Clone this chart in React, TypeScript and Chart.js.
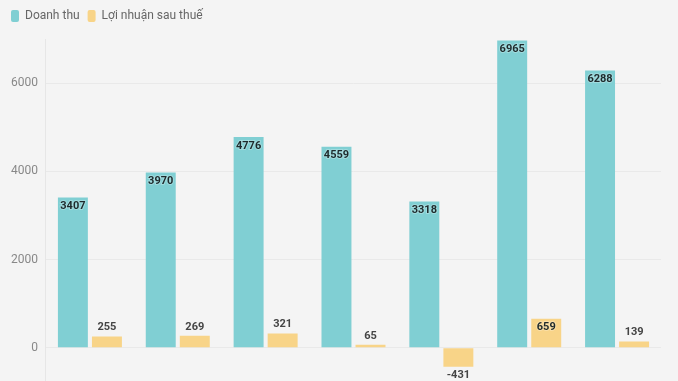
import React, { useEffect, useRef } from "react";
import { Chart, registerables } from "chart.js";

Chart.register(...registerables);

const categories = ["1", "2", "3", "4", "5", "6", "7"];
const revenue = [3407, 3970, 4776, 4559, 3318, 6965, 6288];
const profit = [255, 269, 321, 65, -431, 659, 139];
const seriesNames = ["Doanh thu", "Lợi nhuận sau thuế"];

const TEAL = "#80cfd3";
const YELLOW = "#f8d488";

const labelPlugin = {
  id: "barLabels",
  afterDatasetsDraw(chart: any) {
    const ctx = chart.ctx;
    ctx.save();
    ctx.font = "bold 11px Roboto, 'DejaVu Sans', sans-serif";
    ctx.textAlign = "center";
    ctx.textBaseline = "middle";
    chart.data.datasets.forEach((ds: any, di: number) => {
      const meta = chart.getDatasetMeta(di);
      meta.data.forEach((bar: any, i: number) => {
        const v = ds.data[i];
        const h = Math.abs(bar.base - bar.y);
        let y: number;
        let inside = h > 22;
        if (v >= 0) {
          y = inside ? bar.y + 9 : bar.y - 9;
        } else {
          y = inside ? bar.y - 9 : bar.y + 9;
        }
        ctx.fillStyle = inside ? "#1e2a2c" : "#444";
        if (inside) {
          ctx.lineWidth = 2;
          ctx.strokeStyle = "rgba(255,255,255,0.25)";
          ctx.strokeText(String(v), bar.x, y);
        }
        ctx.fillText(String(v), bar.x, y);
      });
    });
    ctx.restore();
  },
};

const legendMargin = {
  id: "legendMargin",
  beforeInit(chart: any) {
    const orig = chart.legend.fit;
    chart.legend.fit = function () {
      orig.bind(chart.legend)();
      this.height += 7;
    };
  },
};

export default function App() {
  const ref = useRef<HTMLCanvasElement>(null);
  useEffect(() => {
    document.body.style.margin = "0";
    document.body.style.background = "#f4f4f4";
    const chart = new Chart(ref.current!, {
      type: "bar",
      data: {
        labels: categories,
        datasets: [
          { label: seriesNames[0], data: revenue, backgroundColor: TEAL },
          { label: seriesNames[1], data: profit, backgroundColor: YELLOW },
        ],
      },
      options: {
        animation: false,
        responsive: false,
        maintainAspectRatio: false,
        layout: { padding: { left: 3, right: 17, top: 2, bottom: 0 } },
        datasets: {
          bar: { barPercentage: 0.88, categoryPercentage: 0.775 },
        },
        plugins: {
          legend: {
            position: "top",
            align: "start",
            labels: {
              boxWidth: 8,
              boxHeight: 12,
              useBorderRadius: true,
              borderRadius: 2,
              padding: 8,
              color: "#666",
              font: { size: 12, family: "Roboto, 'DejaVu Sans', sans-serif" },
            },
          },
          tooltip: { enabled: false },
        },
        scales: {
          x: { display: false },
          y: {
            min: -1000,
            max: 7000,
            afterBuildTicks: (scale: any) => {
              scale.ticks = scale.ticks.filter((t: any) => t.value % 2000 === 0 && t.value >= 0);
            },
            ticks: {
              stepSize: 1000,
              color: "#888",
              padding: 8,
              callback: (v: any) => String(v),
              font: { size: 12, family: "Roboto, 'DejaVu Sans', sans-serif" },
            },
            grid: { color: "#e9e9e9", drawTicks: false },
            border: { display: true, color: "#e6e6e6" },
          },
        },
      },
      plugins: [labelPlugin, legendMargin],
    });
    return () => chart.destroy();
  }, []);
  return (
    <div style={{ position: "absolute", left: 0, top: 0, width: 678, height: 407, background: "#f4f4f4" }}>
      <canvas ref={ref} width={678} height={407} />
    </div>
  );
}
